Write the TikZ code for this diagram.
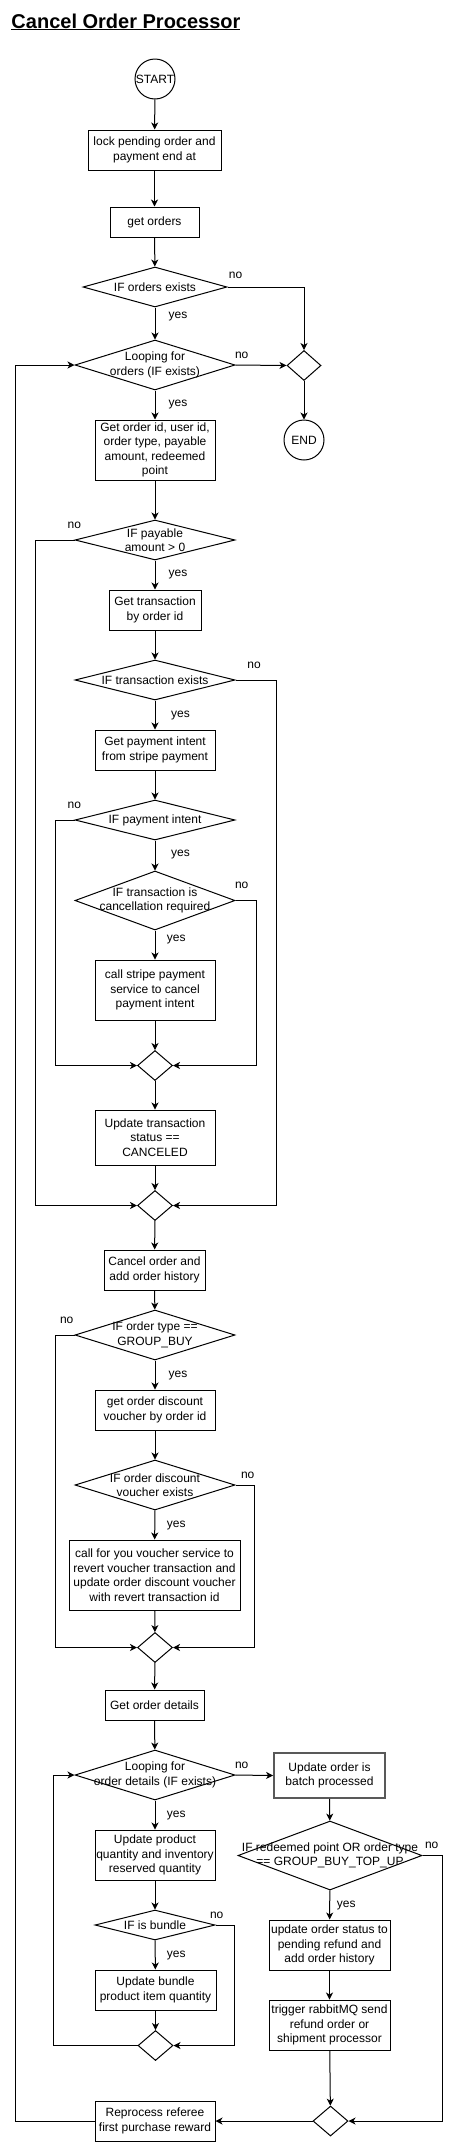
\documentclass[tikz,border=0pt]{standalone}
\usepackage{fontspec}
\setmainfont{Liberation Sans}
\usetikzlibrary{arrows.meta,shapes.geometric}

\begin{document}
\begin{tikzpicture}[x=1pt,y=-1pt,line width=1pt,
  >={Stealth[length=7pt,width=7pt,inset=2pt]},
  every node/.style={font=\fontsize{12}{14.5}\selectfont},
  box/.style={draw,rectangle,align=center,inner sep=0pt,minimum width=120pt,minimum height=40pt},
  decision/.style={draw,diamond,inner sep=0pt,minimum width=160pt,minimum height=40pt},
  merge/.style={draw,diamond,inner sep=0pt,minimum width=35pt,minimum height=30pt},
  terminal/.style={draw,circle,inner sep=0pt,minimum size=40pt},
  lbl/.style={inner sep=0pt}]
  \useasboundingbox (0,0) rectangle (453,2142);
  \node[anchor=base west,inner sep=0pt,font=\fontsize{20}{24}\selectfont\bfseries] (title) at (11,28) {\underline{Cancel Order Processor}};

  \node[terminal] (start) at (155,79) {START};
  \node[box,minimum width=133pt] (lock) at (154.5,150) {lock pending order and\\payment end at};
  \node[box,minimum width=89pt,minimum height=30pt] (getOrders) at (154.5,222) {get orders};
  \node[decision,minimum width=144pt,label={[align=center]center:IF orders exists}] (ifOrders) at (155,287) {};
  \node[decision,minimum height=50pt,label={[align=center]center:Looping for\\orders (IF exists)}] (loopOrders) at (155,365) {};
  \node[merge,minimum width=34pt] (join0) at (304,365.5) {};
  \node[terminal] (endNode) at (304,440) {END};
  \node[box,minimum height=60pt] (getInfo) at (155,450) {Get order id, user id,\\order type, payable\\amount, redeemed\\point};
  \node[decision,label={[align=center]center:IF payable\\amount > 0}] (ifPayable) at (155,540) {};
  \node[box,minimum width=92pt] (getTrans) at (155,610) {Get transaction\\by order id};
  \node[decision,label={[align=center]center:IF transaction exists}] (ifTrans) at (155,680) {};
  \node[box] (getIntent) at (155,750) {Get payment intent\\from stripe payment};
  \node[decision,label={[align=center]center:IF payment intent}] (ifIntent) at (155,820) {};
  \node[decision,minimum height=59pt,label={[align=center]center:IF transaction is\\cancellation required}] (ifCancel) at (155,900.5) {};
  \node[box,minimum height=60pt] (callStripe) at (155,990) {call stripe payment\\service to cancel\\payment intent};
  \node[merge] (merge1) at (155,1065.5) {};
  \node[box,minimum height=55pt] (updTrans) at (155,1137.5) {Update transaction\\status ==\\CANCELED};
  \node[merge] (merge2) at (155,1205.5) {};
  \node[box,minimum width=101pt] (cancelOrder) at (154.5,1270) {Cancel order and\\add order history};
  \node[decision,minimum height=50pt,label={[align=center]center:IF order type ==\\GROUP\_BUY}] (ifGroup) at (155,1335) {};
  \node[box] (getVoucher) at (155,1410) {get order discount\\voucher by order id};
  \node[decision,minimum height=50pt,label={[align=center]center:IF order discount\\voucher exists}] (ifVoucher) at (155,1485) {};
  \node[box,minimum width=171pt,minimum height=70pt] (revertVoucher) at (154.5,1575) {call for you voucher service to\\revert voucher transaction and\\update order discount voucher\\with revert transaction id};
  \node[merge] (merge3) at (155,1647.5) {};
  \node[box,minimum width=99pt,minimum height=30pt] (getDetails) at (154.5,1705) {Get order details};
  \node[decision,minimum height=50pt,label={[align=center]center:Looping for\\order details (IF exists)}] (loopDetails) at (155,1775) {};
  \node[box,minimum height=50pt] (updProduct) at (155,1855) {Update product\\quantity and inventory\\reserved quantity};
  \node[decision,minimum width=120pt,minimum height=30pt,label={[align=center]center:IF is bundle}] (ifBundle) at (155,1925) {};
  \node[box,minimum width=121pt] (updBundle) at (155.5,1990) {Update bundle\\product item quantity};
  \node[merge] (merge4) at (155.5,2045.5) {};
  \node[box,minimum width=111pt,minimum height=45pt,draw=black!65,line width=1.8pt] (batch) at (329.5,1775.5) {Update order is\\batch processed};
  \node[decision,minimum width=184pt,minimum height=69pt,label={[align=center]center:IF redeemed point OR order type\\== GROUP\_BUY\_TOP\_UP}] (ifRefund) at (330,1855.5) {};
  \node[box,minimum width=121pt,minimum height=50pt] (pendRefund) at (329.5,1945) {update order status to\\pending refund and\\add order history};
  \node[box,minimum width=121pt,minimum height=50pt] (trigger) at (329.5,2025) {trigger rabbitMQ send\\refund order or\\shipment processor};
  \node[merge] (merge5) at (330.5,2121) {};
  \node[box] (reprocess) at (155,2121) {Reprocess referee\\first purchase reward};

  \node[lbl] (no1) at (235.5,275) {no};
  \node[lbl] (yes1) at (178,316.7) {yes};
  \node[lbl] (no2) at (241.7,355) {no};
  \node[lbl] (yes2) at (178,405) {yes};
  \node[lbl] (no3) at (74.3,525) {no};
  \node[lbl] (yes3) at (178,575) {yes};
  \node[lbl] (no4) at (254,665) {no};
  \node[lbl] (yes4) at (180.5,715.3) {yes};
  \node[lbl] (no5) at (74.3,805) {no};
  \node[lbl] (yes5) at (180.5,855) {yes};
  \node[lbl] (no6) at (241.7,885) {no};
  \node[lbl] (yes6) at (176.3,940) {yes};
  \node[lbl] (no7) at (66.7,1320) {no};
  \node[lbl] (yes7) at (178,1375) {yes};
  \node[lbl] (no8) at (247.7,1475) {no};
  \node[lbl] (yes8) at (176.3,1525) {yes};
  \node[lbl] (no9) at (241.7,1765) {no};
  \node[lbl] (yes9) at (176.3,1815) {yes};
  \node[lbl] (no10) at (216.7,1915) {no};
  \node[lbl] (yes10) at (176.3,1955) {yes};
  \node[lbl] (no11) at (431.7,1845) {no};
  \node[lbl] (yes11) at (346.3,1905) {yes};

  \draw[->] (start) -- (lock);
  \draw[->] (lock) -- (getOrders);
  \draw[->] (getOrders) -- (ifOrders);
  \draw[->] (ifOrders) -- (loopOrders);
  \draw[->] (ifOrders.east) -| (join0.north);
  \draw[->] (loopOrders.east) -- (join0.west);
  \draw[->] (join0) -- (endNode);
  \draw[->] (loopOrders) -- (getInfo);
  \draw[->] (getInfo) -- (ifPayable);
  \draw[->] (ifPayable) -- (getTrans);
  \draw[->] (ifPayable.west) -- ++(-39,0) |- (merge2.west);
  \draw[->] (getTrans) -- (ifTrans);
  \draw[->] (ifTrans) -- (getIntent);
  \draw[->] (ifTrans.east) -- ++(41,0) |- (merge2.east);
  \draw[->] (getIntent) -- (ifIntent);
  \draw[->] (ifIntent) -- (ifCancel);
  \draw[->] (ifIntent.west) -- ++(-19,0) |- (merge1.west);
  \draw[->] (ifCancel) -- (callStripe);
  \draw[->] (ifCancel.east) -- ++(21,0) |- (merge1.east);
  \draw[->] (callStripe) -- (merge1);
  \draw[->] (merge1) -- (updTrans);
  \draw[->] (updTrans) -- (merge2);
  \draw[->] (merge2) -- (cancelOrder);
  \draw[->] (cancelOrder) -- (ifGroup);
  \draw[->] (ifGroup) -- (getVoucher);
  \draw[->] (ifGroup.west) -- ++(-19,0) |- (merge3.west);
  \draw[->] (getVoucher) -- (ifVoucher);
  \draw[->] (ifVoucher) -- (revertVoucher);
  \draw[->] (ifVoucher.east) -- ++(19,0) |- (merge3.east);
  \draw[->] (revertVoucher) -- (merge3);
  \draw[->] (merge3) -- (getDetails);
  \draw[->] (getDetails) -- (loopDetails);
  \draw[->] (loopDetails) -- (updProduct);
  \draw[->] (loopDetails.east) -- (batch.west);
  \draw[->] (updProduct) -- (ifBundle);
  \draw[->] (ifBundle) -- (updBundle);
  \draw[->] (ifBundle.east) -- ++(19,0) |- (merge4.east);
  \draw[->] (updBundle) -- (merge4);
  \draw[->] (merge4.west) -- ++(-84,0) |- (loopDetails.west);
  \draw[->] (batch) -- (ifRefund);
  \draw[->] (ifRefund) -- (pendRefund);
  \draw[->] (ifRefund.east) -- ++(20,0) |- (merge5.east);
  \draw[->] (pendRefund) -- (trigger);
  \draw[->] (trigger) -- (merge5);
  \draw[->] (merge5.west) -- (reprocess.east);
  \draw[->] (reprocess.west) -- ++(-79,0) |- (loopOrders.west);
\end{tikzpicture}
\end{document}
